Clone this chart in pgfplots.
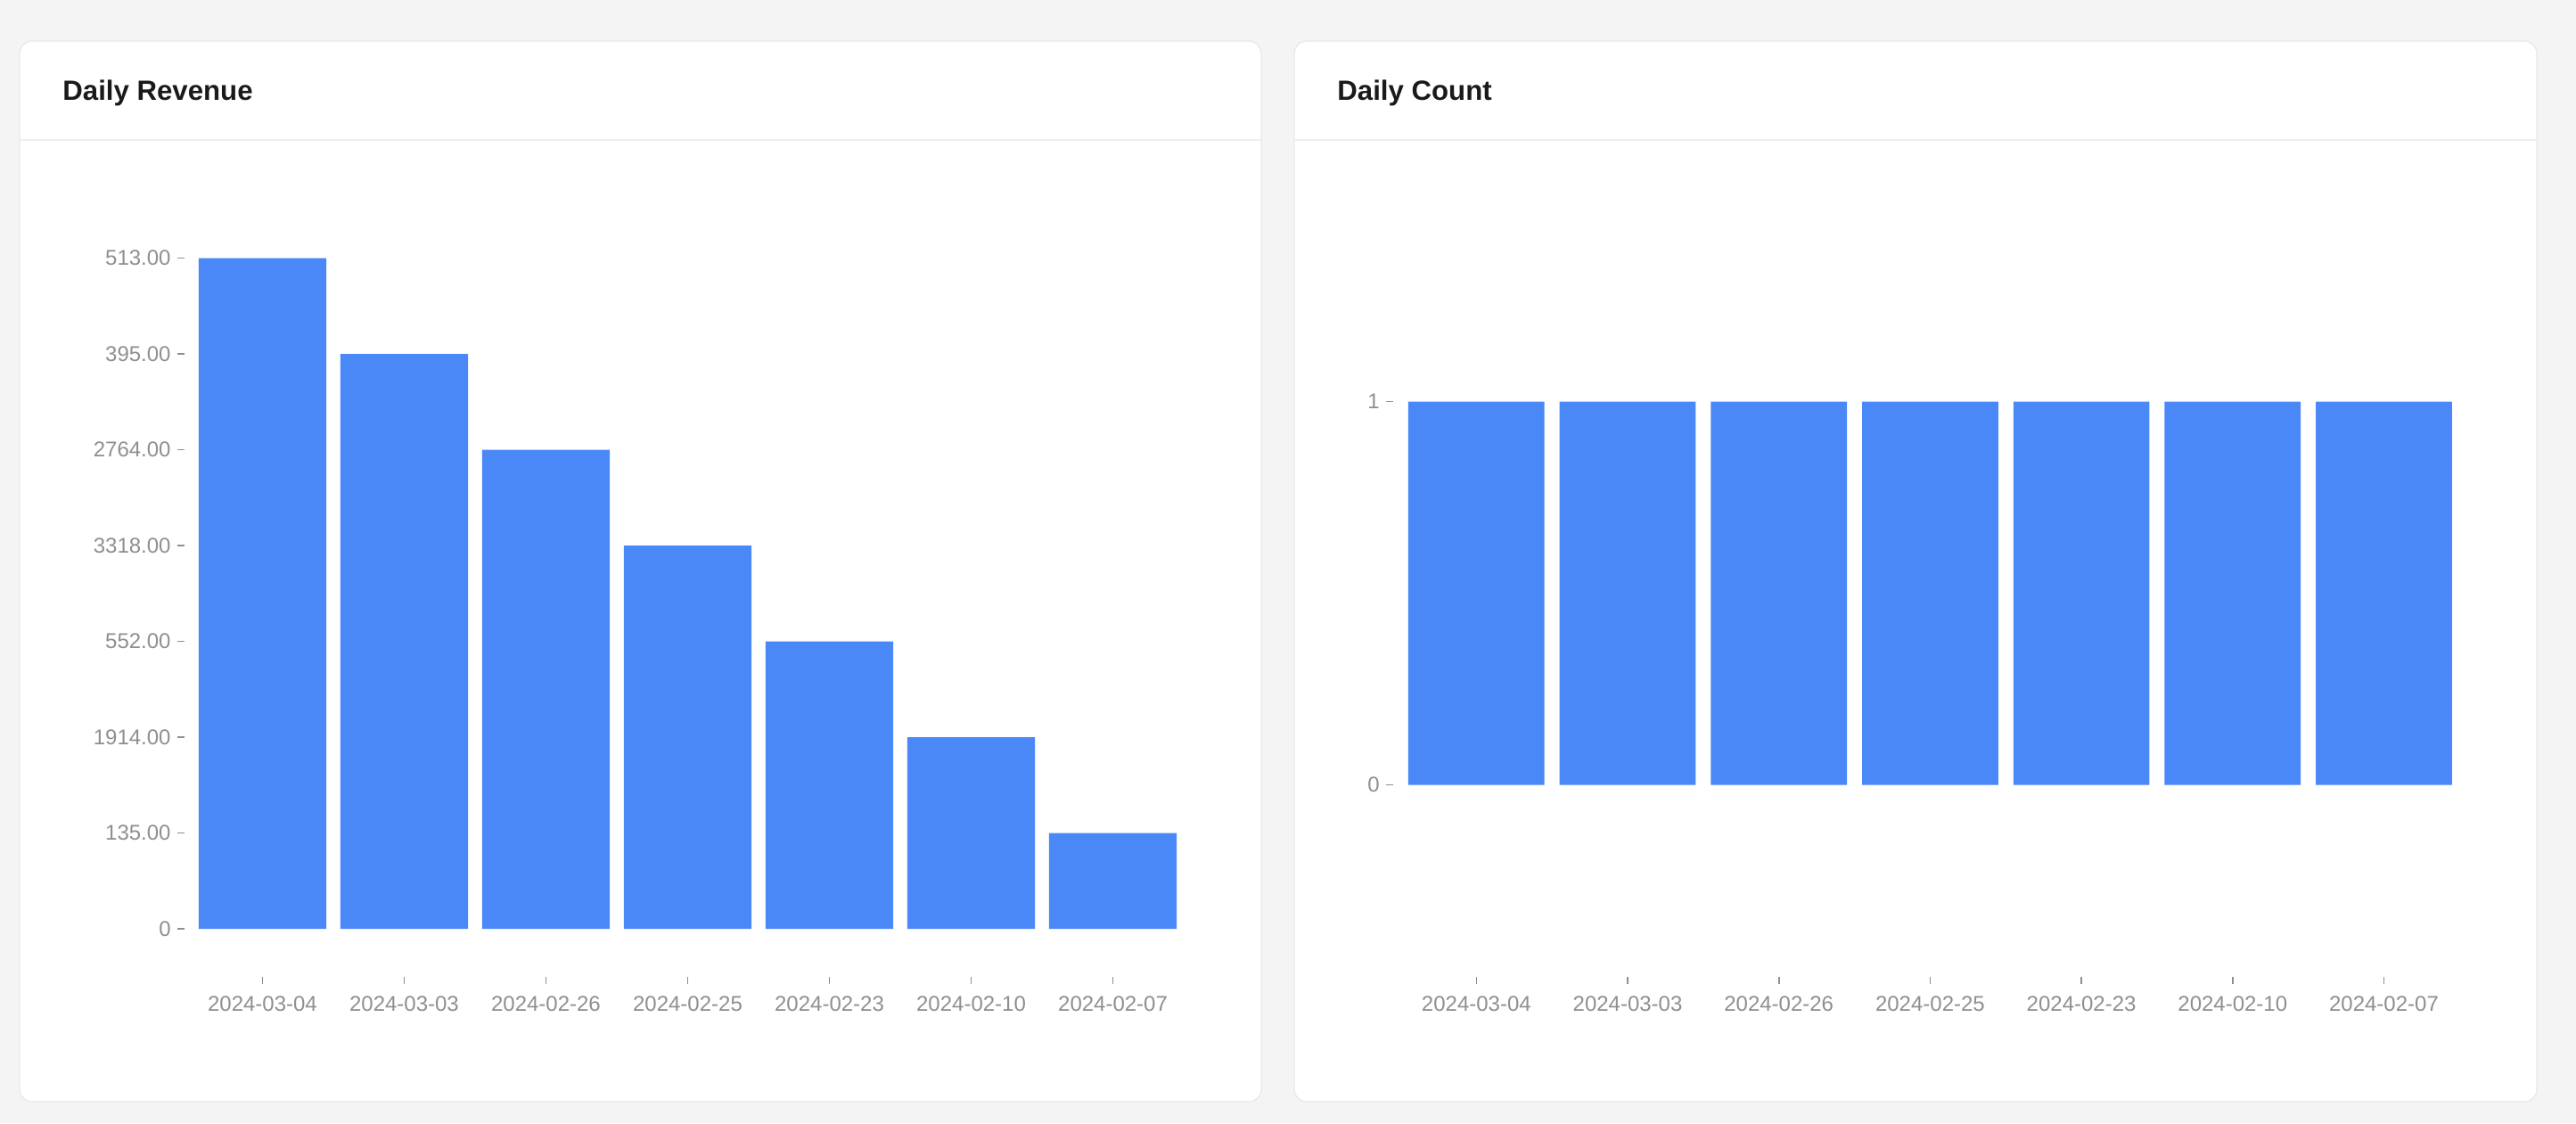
\documentclass[border=0pt]{standalone}
\usepackage{fontspec}
\setmainfont{Liberation Sans}
\usepackage{pgfplots}
\pgfplotsset{compat=1.18}
\definecolor{bg}{HTML}{F4F4F4}
\definecolor{cardborder}{HTML}{E8E8E8}
\definecolor{sepcol}{HTML}{EEEEEE}
\definecolor{barblue}{HTML}{4A88F7}
\definecolor{tickgray}{HTML}{8F8F8F}
\definecolor{titlecol}{HTML}{1A1A1A}
\pgfplotsset{cardaxis/.style={
  scale only axis, anchor=south west, height=430pt,
  ybar, bar width=0.9, xmin=-0.55, xmax=6.55, ymin=-0.5,
  axis line style={draw=none},
  tick align=outside, major tick length=4pt,
  xtick pos=lower, ytick pos=left,
  tick style={tickgray, line width=0.8pt},
  xtick={0,1,2,3,4,5,6},
  xticklabels={2024-03-04,2024-03-03,2024-02-26,2024-02-25,2024-02-23,2024-02-10,2024-02-07},
  ticklabel style={font=\fontsize{12}{14}\selectfont, text=tickgray},
  xticklabel style={inner sep=0pt, yshift=-7pt},
  yticklabel style={inner sep=0pt, xshift=-3.5pt},
  clip=false,
}}
\begin{document}
\begin{tikzpicture}[x=1pt,y=1pt]
\fill[bg] (0,0) rectangle (1445,630);
\filldraw[fill=white, draw=cardborder, line width=0.6pt, rounded corners=7pt] (11,12) rectangle (707.5,607);
\filldraw[fill=white, draw=cardborder, line width=0.6pt, rounded corners=7pt] (726,12) rectangle (1423,607);
\draw[sepcol, line width=1pt] (11.3,551.5) -- (707.2,551.5);
\draw[sepcol, line width=1pt] (726.3,551.5) -- (1422.7,551.5);
\node[anchor=base west, font=\fontsize{15.6}{18}\selectfont\bfseries, text=titlecol, inner sep=0pt] at (35,573.5) {Daily Revenue};
\node[anchor=base west, font=\fontsize{15.6}{18}\selectfont\bfseries, text=titlecol, inner sep=0pt] at (750,573.5) {Daily Count};

\begin{axis}[cardaxis, at={(103.5pt,82.1pt)}, width=564.5pt, ymax=7.5,
  ytick={0,1,2,3,4,5,6,7},
  yticklabels={0,135.00,1914.00,552.00,3318.00,2764.00,395.00,513.00}]
\addplot[fill=barblue, draw=none] coordinates {(0,7) (1,6) (2,5) (3,4) (4,3) (5,2) (6,1)};
\end{axis}

\begin{axis}[cardaxis, at={(781.5pt,82.2pt)}, width=602.4pt, ymax=1.5,
  ytick={0,1}, yticklabels={0,1}]
\addplot[fill=barblue, draw=none] coordinates {(0,1) (1,1) (2,1) (3,1) (4,1) (5,1) (6,1)};
\end{axis}
\end{tikzpicture}
\end{document}
